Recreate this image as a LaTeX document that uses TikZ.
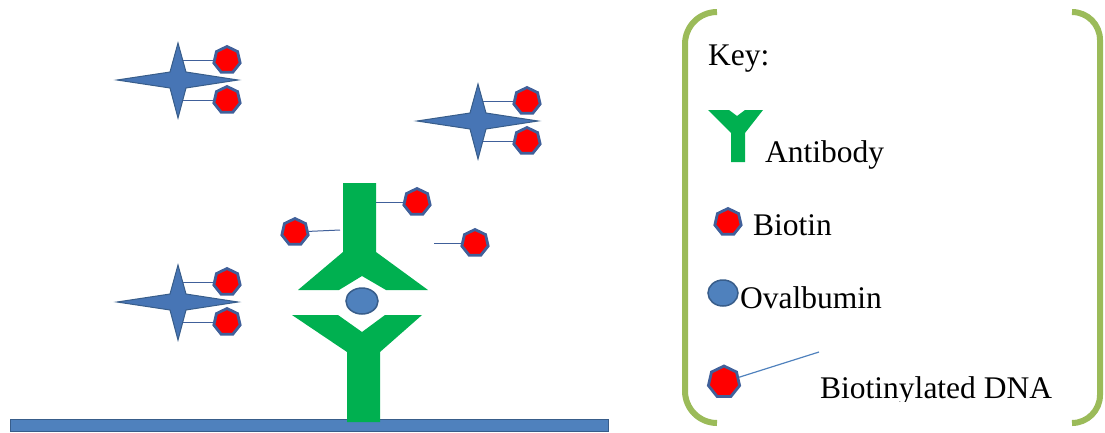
\documentclass[tikz,border=0pt]{standalone}
\usepackage{fontspec}
\setmainfont{Liberation Serif}
\usetikzlibrary{shapes.geometric}

\definecolor{verdeab}{HTML}{00B050}
\definecolor{azulbase}{HTML}{4F81BD}
\definecolor{azulborda}{HTML}{385D8A}
\definecolor{azulestrela}{HTML}{4775B5}
\definecolor{bordabiotina}{HTML}{40609A}
\definecolor{verdechave}{HTML}{9BBB59}

\tikzset{
  biotina/.style={regular polygon, regular polygon sides=7, minimum size=27pt,
    inner sep=0pt, fill=red, draw=bordabiotina, line width=2.8pt},
  ovalb/.style={ellipse, inner sep=0pt, fill=azulbase, draw=azulborda, line width=1.5pt},
  haste/.style={draw=bordabiotina, line width=1pt},
  rotulo/.style={anchor=base west, inner sep=0pt, font=\fontsize{31.5}{32}\selectfont},
}

\begin{document}
\begin{tikzpicture}[x=1pt,y=-1pt]
  \useasboundingbox (0,0) rectangle (1105,432);
  % base
  \draw[fill=azulbase, draw=azulborda, line width=1pt] (10,419) rectangle (608,431);
  % anticorpo de baixo
  \fill[verdeab] (292,315) -- (338,315) -- (362,332) -- (385,315) -- (422,315)
    -- (380,352) -- (380,422) -- (347,422) -- (347,352) -- cycle;
  % anticorpo de cima (invertido)
  \fill[verdeab] (343,183) -- (376,183) -- (376,252) -- (428,290) -- (386,290)
    -- (362,276) -- (339,290) -- (298,290) -- (343,252) -- cycle;
  % ovalbumina
  \node[ovalb, minimum width=32pt, minimum height=26pt] (ova) at (362,301) {};
  % estrelas com duas biotinas cada
  \foreach \cx/\cy/\n in {178/80/a, 478/121/b, 178/302/c} {
    \filldraw[fill=azulestrela, draw=azulborda, line width=1pt]
      (\cx-61,\cy) -- (\cx-8,\cy-8) -- (\cx,\cy-37) -- (\cx+8,\cy-8)
      -- (\cx+60,\cy) -- (\cx+8,\cy+8) -- (\cx,\cy+38) -- (\cx-8,\cy+8) -- cycle;
    \node[biotina] (\n1) at (\cx+49,\cy-20) {};
    \node[biotina] (\n2) at (\cx+49,\cy+20) {};
    \coordinate (\n1p) at (\cx+5,\cy-20);
    \coordinate (\n2p) at (\cx+5,\cy+20);
    \draw[haste] (\n1p) -- (\n1);
    \draw[haste] (\n2p) -- (\n2);
  }
  % biotinas perto do anticorpo
  \node[biotina] (b1) at (417,202) {};
  \coordinate (b1p) at (376,202);
  \draw[haste] (b1p) -- (b1);
  \node[biotina] (b2) at (295,232) {};
  \coordinate (b2p) at (340,230);
  \draw[haste] (b2) -- (b2p);
  \node[biotina] (b3) at (475,243) {};
  \coordinate (b3p) at (434,243);
  \draw[haste] (b3p) -- (b3);

  % legenda
  \draw[verdechave, line width=6pt, rounded corners=32pt]
    (717,12) -- (685,12) -- (685,423) -- (717,423);
  \draw[verdechave, line width=6pt, rounded corners=28pt]
    (1072,12) -- (1100,12) -- (1100,423) -- (1072,423);
  \node[rotulo] (chave) at (708,65) {Key:};
  \fill[verdeab] (708,110) -- (729,110) -- (737,116) -- (745,110) -- (763,110)
    -- (745,133) -- (745,162) -- (731,162) -- (731,133) -- cycle;
  \node[rotulo] (lab) at (765,162) {Antibody};
  \node[biotina] (kbio) at (728,222) {};
  \node[rotulo] (lbio) at (753,235) {Biotin};
  \node[ovalb, minimum width=30pt, minimum height=26pt] (kova) at (723,293) {};
  \node[rotulo] (lova) at (740,308) {Ovalbumin};
  \node[biotina, minimum size=32pt] (kdna) at (724,382) {};
  \coordinate (kdnap) at (819,352);
  \draw[azulbase, line width=1.2pt] (kdna) -- (kdnap);
  \begin{scope}
    \clip (800,330) rectangle (1090,401);
    \node[rotulo] (ldna) at (820,398) {Biotinylated DNA};
  \end{scope}
\end{tikzpicture}
\end{document}
